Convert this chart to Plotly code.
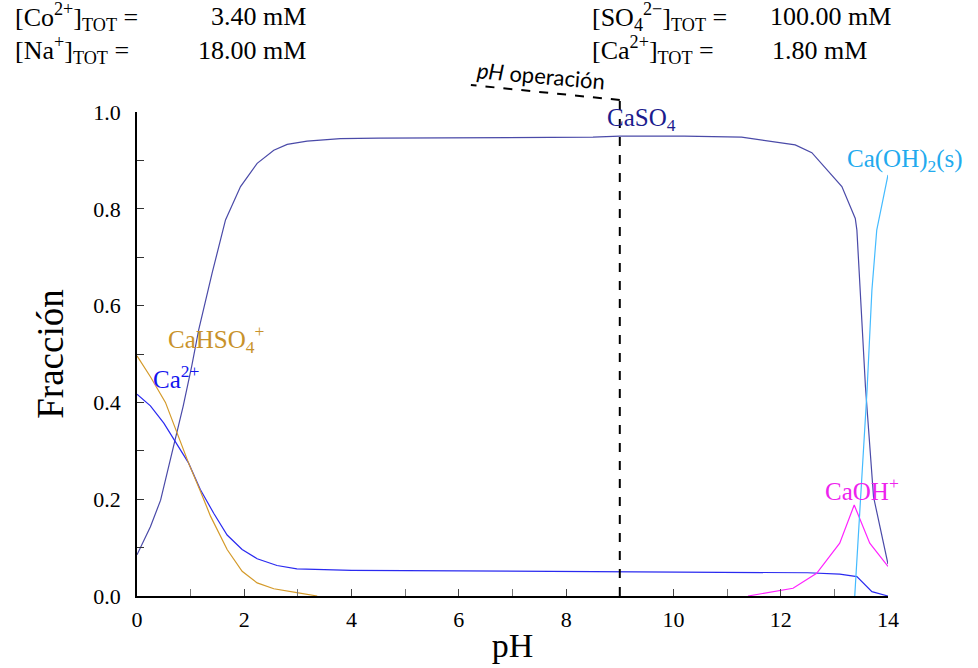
import plotly.graph_objects as go

# Calcium speciation vs pH (fraction of total Ca)
ph_caso4 = [0, 0.25, 0.44, 0.56, 0.71, 0.86, 1.02, 1.15, 1.4, 1.65, 1.93, 2.24, 2.55, 2.8,
            3.17, 3.48, 3.79, 4.5, 6, 8.5, 9, 10.2, 11.27, 12.27, 12.58, 13.14, 13.39,
            13.42, 13.58, 13.73, 14]
frac_caso4 = [0.085, 0.143, 0.198, 0.254, 0.32, 0.392, 0.475, 0.55, 0.667, 0.777, 0.846,
              0.894, 0.921, 0.933, 0.940, 0.943, 0.945, 0.946, 0.947, 0.948, 0.950, 0.950,
              0.948, 0.932, 0.916, 0.846, 0.78, 0.756, 0.432, 0.205, 0.066]

ph_ca = [0, 0.25, 0.5, 0.71, 0.96, 1.18, 1.43, 1.68, 1.96, 2.24, 2.61, 2.98, 4, 6, 8.5,
         10, 12.5, 13.1, 13.42, 13.7, 14]
frac_ca = [0.417, 0.393, 0.357, 0.32, 0.275, 0.22, 0.171, 0.126, 0.096, 0.077, 0.063,
           0.056, 0.053, 0.052, 0.051, 0.049, 0.048, 0.045, 0.04, 0.009, 0.0]

ph_cahso4 = [0, 0.25, 0.53, 0.75, 0.96, 1.18, 1.37, 1.68, 1.96, 2.24, 2.55, 2.98, 3.36]
frac_cahso4 = [0.496, 0.453, 0.40, 0.337, 0.275, 0.217, 0.165, 0.096, 0.051, 0.027,
               0.015, 0.007, 0.0]

ph_caoh = [11.39, 12.23, 12.67, 13.1, 13.37, 13.66, 14]
frac_caoh = [0.0, 0.016, 0.047, 0.109, 0.188, 0.109, 0.061]

ph_caoh2 = [13.38, 13.61, 13.70, 13.79, 14]
frac_caoh2 = [0.0, 0.426, 0.632, 0.756, 0.87]

ph_operacion = 9.0

# Total concentrations shown above the plot
tot_labels_left = ["[Co<sup>2+</sup>]<sub>TOT</sub> =", "[Na<sup>+</sup>]<sub>TOT</sub> ="]
tot_values_left = ["3.40 mM", "18.00 mM"]
tot_labels_right = ["[SO<sub>4</sub><sup>2\u2212</sup>]<sub>TOT</sub> =",
                    "[Ca<sup>2+</sup>]<sub>TOT</sub> ="]
tot_values_right = ["100.00 mM", "1.80 mM"]

W, H = 978, 668
L, R, T, B = 136.5, 888, 112, 596
SERIF = "Liberation Serif"


def px(xp):
    return (xp - L) / (R - L)


def py(yp):
    return (B - yp) / (B - T)


# name, x, y, line colour, label colour, label x, label y, label ref
species = [
    ("CaSO<sub>4</sub>", ph_caso4, frac_caso4, "#4a4aa8", "#1c1c8e", 9.4, 0.985, "x"),
    ("Ca<sup>2+</sup>", ph_ca, frac_ca, "#2a2af0", "#1414ee", 0.74, 0.452, "x"),
    ("CaHSO<sub>4</sub><sup>+</sup>", ph_cahso4, frac_cahso4, "#d49a2a", "#c8922a", 1.48, 0.53, "x"),
    ("CaOH<sup>+</sup>", ph_caoh, frac_caoh, "#ff22ff", "#ee22ee", 13.52, 0.222, "x"),
    ("Ca(OH)<sub>2</sub>(s)", ph_caoh2, frac_caoh2, "#44bbff", "#22aaee", px(905), 0.9, "paper"),
]

fig = go.Figure()
annotations = []
for name, xs, ys, lc, tc, lx, ly, ref in species:
    fig.add_trace(go.Scatter(x=xs, y=ys, mode="lines", name=name,
                             line=dict(color=lc, width=1.2), showlegend=False))
    annotations.append(dict(x=lx, y=ly, xref=ref, yref="paper" if ref == "paper" else "y",
                            text=name, showarrow=False, xanchor="center", yanchor="middle",
                            font=dict(family=SERIF, size=25, color=tc)))

rows_y = [17, 50]
hfont = dict(family=SERIF, size=26, color="black")
for i in range(2):
    common = dict(xref="paper", yref="paper", showarrow=False, yanchor="middle", font=hfont)
    annotations.append(dict(x=px(12), y=py(rows_y[i]), text=tot_labels_left[i],
                            xanchor="left", **common))
    annotations.append(dict(x=px(308), y=py(rows_y[i]), text=tot_values_left[i],
                            xanchor="right", **common))
    annotations.append(dict(x=px(590), y=py(rows_y[i]), text=tot_labels_right[i],
                            xanchor="left", **common))
    annotations.append(dict(x=px(768 if i == 0 else 770), y=py(rows_y[i]),
                            text=tot_values_right[i], xanchor="left", **common))

# Operating pH marker and its label
x_label_end = ph_operacion - (617 - 468) / ((R - L) / 14)
shapes = [
    dict(type="line", xref="x", yref="paper", x0=ph_operacion, x1=ph_operacion,
         y0=0, y1=py(100), line=dict(color="black", width=2, dash="dash")),
    dict(type="line", xref="x", yref="paper", x0=ph_operacion, x1=x_label_end,
         y0=py(100), y1=py(85), line=dict(color="black", width=2, dash="dash")),
]
annotations.append(dict(x=px(541), y=py(75), xref="paper", yref="paper",
                        xanchor="center", yanchor="middle",
                        text="<i>pH</i> operación", showarrow=False, textangle=5,
                        font=dict(family="Lato", size=22, color="black")))

fig.update_layout(
    width=W, height=H,
    margin=dict(l=L, r=W - R, t=T, b=H - B),
    plot_bgcolor="white", paper_bgcolor="white",
    annotations=annotations, shapes=shapes,
    xaxis=dict(range=[0, 14], dtick=2, tick0=0, ticks="inside", ticklen=7, tickcolor="#444",
               showline=True, linecolor="black", linewidth=1.5, showgrid=False, zeroline=False,
               minor=dict(dtick=1, ticks="inside", ticklen=7, tickcolor="#777"),
               ticklabelstandoff=3, automargin=False,
               tickfont=dict(family=SERIF, size=22, color="black"),
               title=dict(text="pH", font=dict(family=SERIF, size=34, color="black"),
                          standoff=2)),
    yaxis=dict(range=[0, 1.0], dtick=0.2, tick0=0, tickformat=".1f", ticks="inside",
               ticklen=7, tickcolor="#333", showline=True, linecolor="black", linewidth=1.5,
               showgrid=False, zeroline=False,
               minor=dict(dtick=0.1, ticks="inside", ticklen=7, tickcolor="#333"),
               ticklabelstandoff=10, automargin=False,
               tickfont=dict(family=SERIF, size=22, color="black"),
               title=dict(text="Fracción", font=dict(family=SERIF, size=37, color="black"),
                          standoff=18)),
)

fig.write_html("out.html")
